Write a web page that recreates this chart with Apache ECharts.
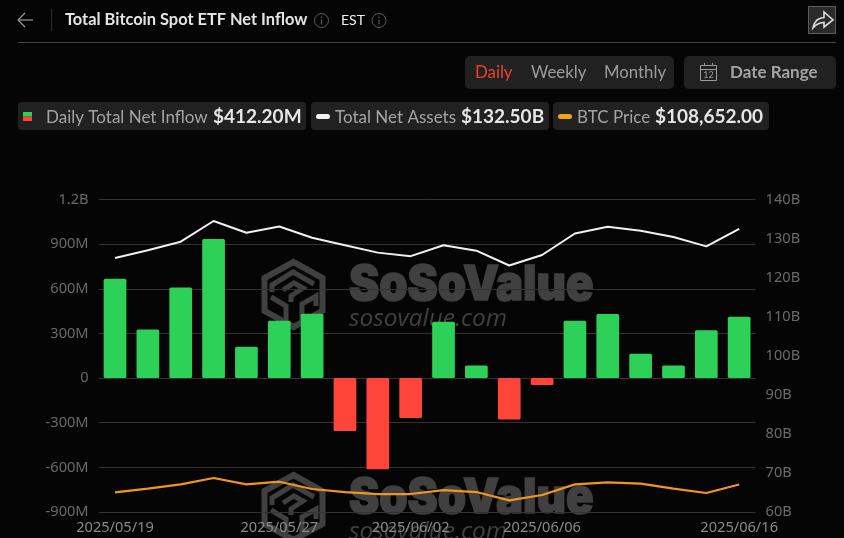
<!DOCTYPE html>
<html lang="en">

<head>
    <meta charset="UTF-8" />
    <title>Total Bitcoin Spot ETF Net Inflow</title>
    <script src="https://cdn.jsdelivr.net/npm/echarts@6/dist/echarts.min.js"></script>
    <style>
        * {
            margin: 0;
        }

        #chart {
            width: 844px;
            height: 538px;
            overflow: hidden;
        }
    </style>
</head>

<body>
    <div id="chart"></div>
    <script>
        const dates = [
            "2025/05/19", "2025/05/20", "2025/05/21", "2025/05/22", "2025/05/23", "2025/05/27", "2025/05/28",
            "2025/05/29", "2025/05/30", "2025/06/02", "2025/06/03", "2025/06/04", "2025/06/05", "2025/06/06",
            "2025/06/09", "2025/06/10", "2025/06/11", "2025/06/12", "2025/06/13", "2025/06/16",
        ];
        const shownDates = ["2025/05/19", "2025/05/27", "2025/06/02", "2025/06/06", "2025/06/16"];
        // millions of USD
        const netInflow = [667, 327, 609, 934, 210, 385, 432, -356, -613, -268, 378, 85, -278, -47, 385, 430, 164, 85, 322, 412];
        // billions of USD
        const netAssets = [125.0, 127.0, 129.2, 134.5, 131.5, 133.1, 130.2, 128.3, 126.4, 125.5, 128.3, 126.9, 123.1, 125.8, 131.3, 133.0, 132.0, 130.4, 128.0, 132.5];
        const btcPrice = [105050, 106740, 108730, 111650, 108730, 109960, 106600, 105200, 104280, 104280, 106100, 105200, 101380, 103830, 108730, 109650, 109040, 106740, 104740, 108652];

        const seriesLabels = ["Daily Total Net Inflow", "Total Net Assets", "BTC Price"];
        const latestValues = ["$412.20M", "$132.50B", "$108,652.00"];

        const uiFont = "Lato";
        const axisFont = "Noto Sans";

        function text(x, y, str, size, color, weight, extra) {
            return {
                type: "text",
                x: x,
                y: y,
                silent: true,
                style: Object.assign({ text: str, fontFamily: uiFont, fontSize: size, fontWeight: weight || "normal", fill: color, verticalAlign: "middle" }, extra || {}),
            };
        }

        function box(x, y, w, h, fill, r, stroke) {
            return {
                type: "rect",
                silent: true,
                shape: { x: x, y: y, width: w, height: h, r: r },
                style: { fill: fill, stroke: stroke || null, lineWidth: 1 },
            };
        }

        function line(points, color, width) {
            return {
                type: "polyline",
                silent: true,
                shape: { points: points },
                style: { stroke: color, lineWidth: width, fill: null, lineJoin: "miter" },
            };
        }

        function infoIcon(cx, cy) {
            return [
                { type: "circle", silent: true, shape: { cx: cx, cy: cy, r: 7 }, style: { stroke: "#5a5a5a", fill: null, lineWidth: 1 } },
                line([[cx, cy - 1], [cx, cy + 4]], "#5a5a5a", 1.2),
                line([[cx, cy - 4], [cx, cy - 2.5]], "#5a5a5a", 1.2),
            ];
        }

        function watermark(offsetY) {
            const c = "#404040";
            return {
                type: "group",
                x: 0,
                y: offsetY,
                z: -1,
                silent: true,
                children: [
                    { type: "polygon", z: -1, shape: { points: [[293.5, 262], [322.5, 278], [322.5, 311], [293.5, 327], [264.5, 311], [264.5, 278]] }, style: { stroke: c, lineWidth: 6, fill: null } },
                    line([[272, 292], [272, 285], [293, 272], [314, 284]], c, 5),
                    line([[283, 290], [294, 283], [303, 288], [291, 296], [291, 302]], c, 5),
                    line([[271, 297], [286, 306], [286, 320]], c, 5),
                    line([[302, 320], [302, 304], [316, 296], [316, 306]], c, 5),
                    Object.assign(text(0, 0, "SoSoValue", 48, c, 900, { fontFamily: "Inter", stroke: c, lineWidth: 1.5 }), { x: 349, y: 286, scaleX: 0.945, z: -1 }),
                    Object.assign(text(349, 319, "sosovalue.com", 24.4, c, "normal", { fontFamily: "Open Sans", fontStyle: "italic" }), { z: -1 }),
                ],
            };
        }

        const headerElements = [
            // top bar
            line([[33, 20], [18, 20]], "#9a9a9a", 1.2),
            line([[25, 13], [18, 20], [25, 27]], "#9a9a9a", 1.2),
            line([[51.5, 9], [51.5, 31]], "#2c2c2c", 1),
            text(65, 20, "Total Bitcoin Spot ETF Net Inflow", 16.4, "#e4e4e4", "bold"),
            ...infoIcon(321.5, 20.5),
            text(341, 20, "EST", 14, "#f0f0f0"),
            ...infoIcon(379, 20.5),
            line([[18, 42.5], [836, 42.5]], "#454545", 1),
            // share button
            box(808.5, 6.5, 27, 27, "#2a2a2a", 0, "#5c5c5c"),
            {
                type: "polygon",
                silent: true,
                shape: { points: [[813, 28], [814, 24], [817, 20], [821, 18], [824, 17.5], [824, 12], [833, 20], [824, 27], [824, 22.5], [820, 23], [816, 25]] },
                style: { fill: "#2a2a2a", stroke: "#dcdcdc", lineWidth: 1.6 },
            },
            // period switch
            box(465, 56, 209, 33, "#212121", 5),
            text(475, 73, "Daily", 16.8, "#e8452c"),
            text(531, 73, "Weekly", 16.8, "#9c9c9c"),
            text(604, 73, "Monthly", 16.8, "#9c9c9c"),
            // date range
            box(684, 56, 152, 33, "#212121", 5),
            box(700.5, 65.5, 16, 15, null, 0, "#9c9c9c"),
            line([[700.5, 69.5], [716.5, 69.5]], "#9c9c9c", 1),
            line([[704.5, 63], [704.5, 66]], "#9c9c9c", 1),
            line([[712.5, 63], [712.5, 66]], "#9c9c9c", 1),
            text(708.5, 75.5, "12", 9, "#9c9c9c", "normal", { align: "center" }),
            text(730, 73, "Date Range", 17, "#a4a4a4", "bold"),
            // legend chips
            box(18, 102, 288, 28, "#212121", 4),
            box(23, 112, 9, 4.5, "#2ed158", 0),
            box(23, 116.5, 9, 4.5, "#ff453a", 0),
            text(46, 118, seriesLabels[0], 17, "#a4a4a4"),
            text(213, 116.5, latestValues[0], 19, "#e6e6e6", "bold"),
            box(311, 102, 238, 28, "#212121", 4),
            box(316, 114, 14, 5, "#f2f2f2", 2.5),
            text(335, 118, seriesLabels[1], 17, "#a4a4a4"),
            text(461, 116.5, latestValues[1], 19, "#e6e6e6", "bold"),
            box(553, 102, 216, 28, "#212121", 4),
            box(558, 114, 14, 5, "#f7a01e", 2.5),
            text(577, 118, seriesLabels[2], 17, "#a4a4a4"),
            text(655, 116.5, latestValues[2], 19, "#e6e6e6", "bold"),
        ];

        const chart = echarts.init(document.getElementById("chart"), null, { renderer: "canvas" });

        chart.setOption({
            animation: false,
            backgroundColor: "#050505",
            graphic: { elements: [watermark(0), watermark(213), ...headerElements] },
            grid: { left: 98.6, right: 88.4, top: 199.5, bottom: 26 },
            tooltip: { trigger: "axis" },
            xAxis: {
                type: "category",
                data: dates,
                axisLine: { show: false },
                axisTick: { show: false },
                axisLabel: {
                    interval: (i, value) => shownDates.includes(value),
                    color: "#8a8a8a",
                    fontFamily: axisFont,
                    fontSize: 14.6,
                    margin: 8,
                },
            },
            yAxis: [
                {
                    type: "value",
                    min: -900,
                    max: 1200,
                    interval: 300,
                    axisLabel: {
                        color: "#6a6a6a",
                        fontFamily: axisFont,
                        fontSize: 14.6,
                        margin: 10,
                        formatter: (v) => (Math.abs(v) >= 1000 ? v / 1000 + "B" : v === 0 ? "0" : v + "M"),
                    },
                    splitLine: { lineStyle: { color: "#333333", width: 1 } },
                },
                {
                    type: "value",
                    min: 60,
                    max: 140,
                    interval: 10,
                    position: "right",
                    axisLabel: { color: "#6a6a6a", fontFamily: axisFont, fontSize: 14.6, margin: 10, formatter: "{value}B" },
                    splitLine: { show: false },
                },
                // BTC price scale is not printed in the original
                { type: "value", min: 96000, max: 240000, show: false, splitLine: { show: false } },
            ],
            series: [
                {
                    name: seriesLabels[0],
                    type: "bar",
                    data: netInflow,
                    barWidth: 22.7,
                    itemStyle: {
                        borderRadius: 1.5,
                        color: (p) => (p.value >= 0 ? "#2ed158" : "#ff453a"),
                    },
                },
                {
                    name: seriesLabels[1],
                    type: "line",
                    yAxisIndex: 1,
                    data: netAssets,
                    symbol: "none",
                    lineStyle: { color: "#f0f0f0", width: 2 },
                },
                {
                    name: seriesLabels[2],
                    type: "line",
                    yAxisIndex: 2,
                    data: btcPrice,
                    symbol: "none",
                    lineStyle: { color: "#f0961e", width: 2.2 },
                },
            ],
        });
    </script>
</body>

</html>
